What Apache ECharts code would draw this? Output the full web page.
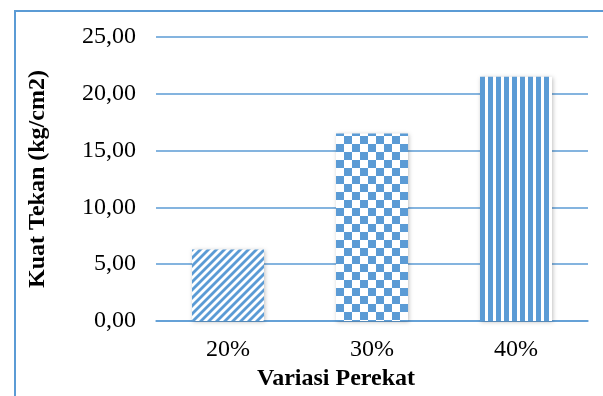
<!DOCTYPE html>
<html>
<head>
<meta charset="utf-8">
<script src="https://cdn.jsdelivr.net/npm/echarts@6/dist/echarts.min.js"></script>
<style>
  html, body { margin: 0; padding: 0; background: #fff; }
  #chart { width: 603px; height: 396px; }
</style>
</head>
<body>
<div id="chart"></div>
<script>
// Compressive strength by binder proportion
const categories = ['20%', '30%', '40%'];
const kuatTekan = [6.3, 16.5, 21.5];
const yTicks = [0, 5, 10, 15, 20, 25];

const BLUE = '#5B9BD5';

function makeTile(w, h, draw) {
  const c = document.createElement('canvas');
  c.width = w; c.height = h;
  const ctx = c.getContext('2d');
  ctx.fillStyle = '#ffffff';
  ctx.fillRect(0, 0, w, h);
  ctx.fillStyle = BLUE;
  draw(ctx);
  return c;
}

// wide upward diagonal stripes
const diagTile = makeTile(8, 8, ctx => {
  for (const c of [-16, -8, 0, 8, 16]) {
    ctx.beginPath();
    ctx.moveTo(c + 2, -2);
    ctx.lineTo(c + 6, -2);
    ctx.lineTo(c - 6, 10);
    ctx.lineTo(c - 10, 10);
    ctx.closePath();
    ctx.fill();
  }
});

// large checkerboard
const checkTile = makeTile(16, 16, ctx => {
  ctx.fillRect(0, 0, 8, 8);
  ctx.fillRect(8, 8, 8, 8);
});

// wide vertical stripes
const vertTile = makeTile(8, 8, ctx => {
  ctx.fillRect(0, 0, 5, 8);
});

const tiles = [diagTile, checkTile, vertTile];

const chart = echarts.init(document.getElementById('chart'), null, { renderer: 'canvas' });

chart.setOption({
  animation: false,
  backgroundColor: '#ffffff',
  graphic: [{
    type: 'rect',
    shape: { x: 15, y: 11, width: 620, height: 420 },
    style: { fill: null, stroke: BLUE, lineWidth: 2 },
    silent: true
  }],
  grid: { left: 156, right: 15, top: 37, bottom: 74 },
  xAxis: {
    type: 'category',
    data: categories,
    name: 'Variasi Perekat',
    nameLocation: 'middle',
    nameGap: 46,
    nameTextStyle: {
      fontFamily: 'Liberation Serif', fontWeight: 'bold', fontSize: 24, color: '#000',
      padding: [0, 72, 0, 0]
    },
    axisLine: { show: true, lineStyle: { color: BLUE, width: 1.5 } },
    axisTick: { show: false },
    axisLabel: { fontFamily: 'Liberation Serif', fontSize: 24, color: '#000', margin: 17 }
  },
  yAxis: {
    type: 'value',
    min: 0,
    max: 25,
    interval: 5,
    name: 'Kuat Tekan (kg/cm2)',
    nameLocation: 'middle',
    nameGap: 106,
    nameTextStyle: { fontFamily: 'Liberation Serif', fontWeight: 'bold', fontSize: 24, color: '#000' },
    axisLine: { show: false },
    axisTick: { show: false },
    splitLine: { lineStyle: { color: BLUE, width: 1.5 } },
    axisLabel: {
      fontFamily: 'Liberation Serif',
      fontSize: 24,
      color: '#000',
      margin: 20,
      customValues: yTicks,
      formatter: v => v.toFixed(2).replace('.', ',')
    }
  },
  series: [{
    type: 'bar',
    barWidth: '50%',
    data: kuatTekan.map((v, i) => ({
      value: v,
      itemStyle: {
        color: { image: tiles[i], repeat: 'repeat' },
        shadowColor: 'rgba(0,0,0,0.25)',
        shadowBlur: 4,
        shadowOffsetX: 1,
        shadowOffsetY: 1
      }
    }))
  }]
});
</script>
</body>
</html>
